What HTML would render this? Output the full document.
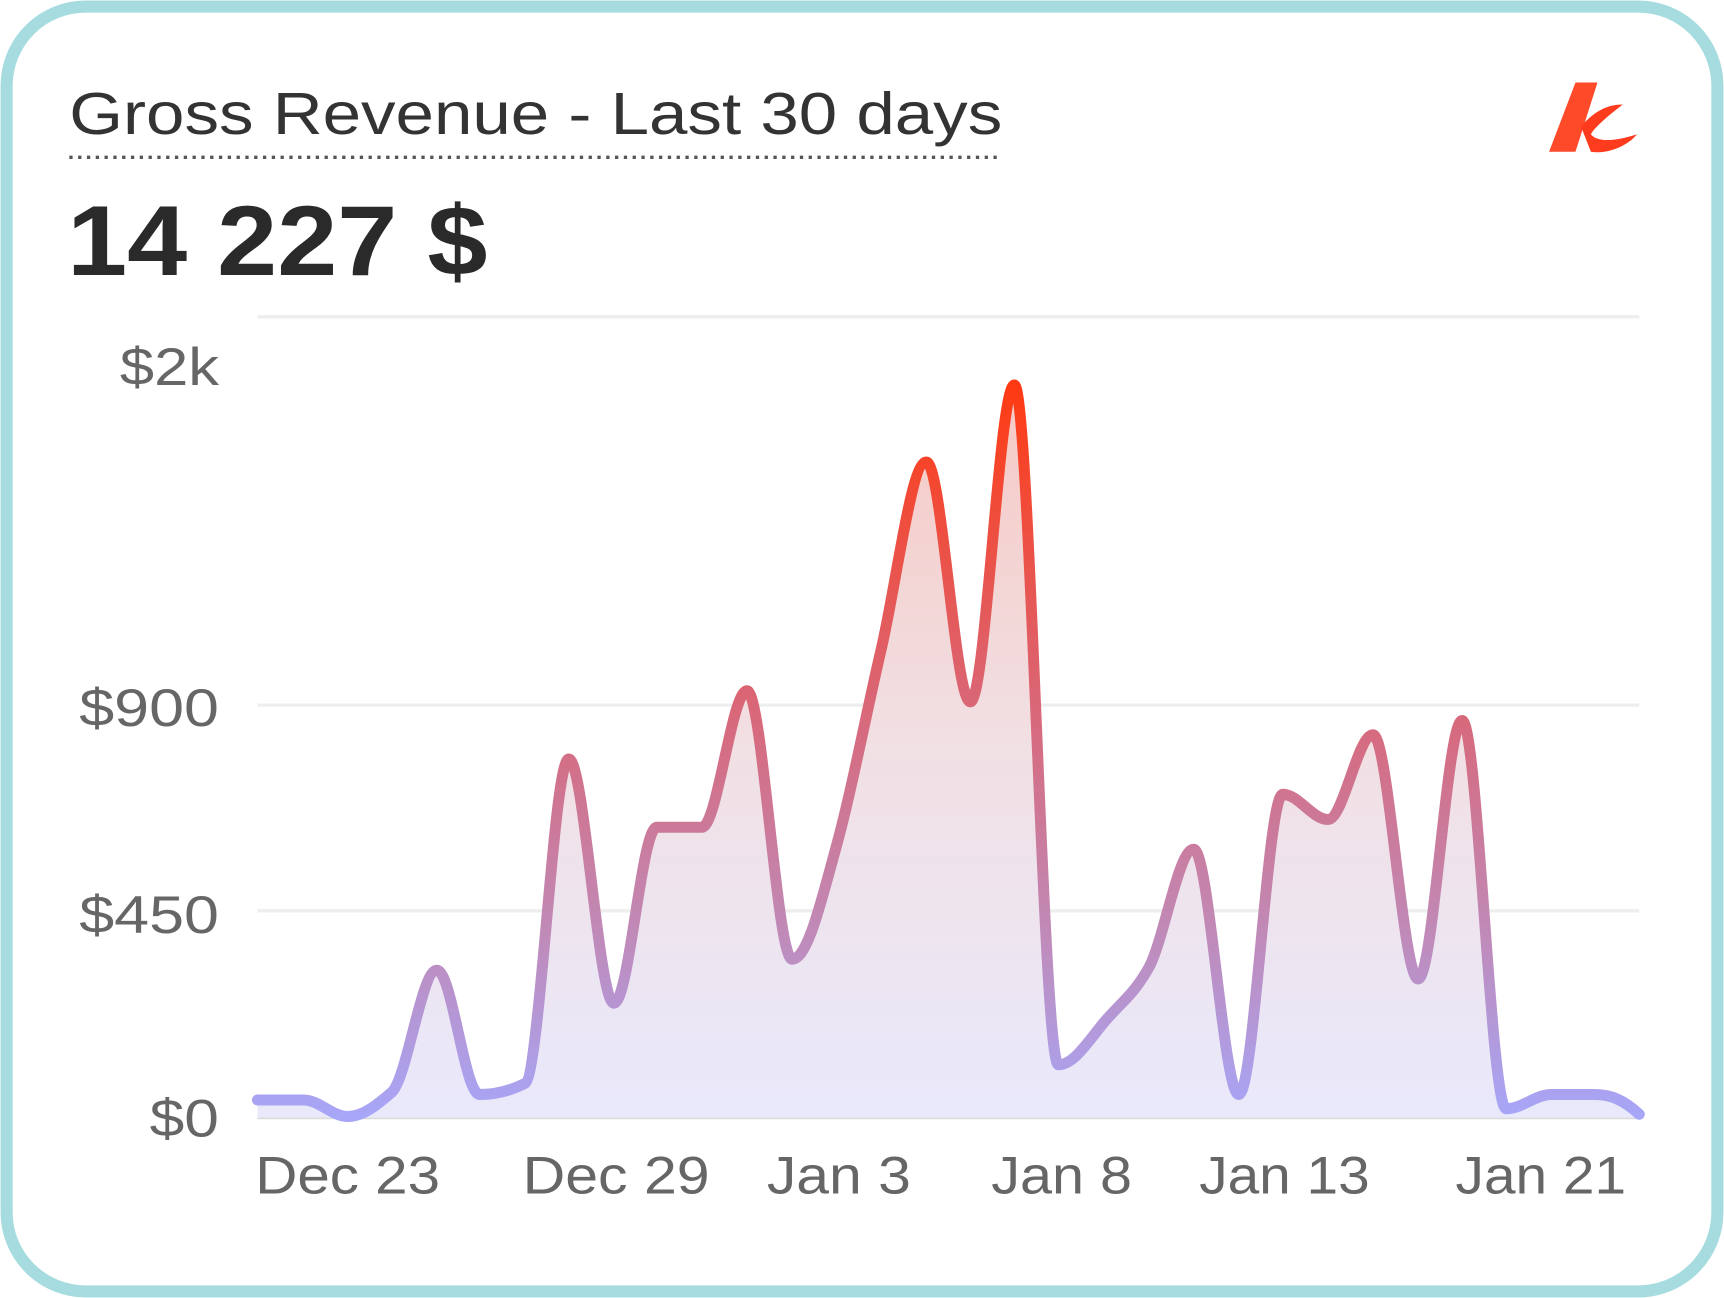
<!DOCTYPE html>
<html><head><meta charset="utf-8"><style>
html,body{margin:0;padding:0;background:#fff;}
svg{display:block;}
</style></head><body>
<svg width="1724" height="1298" viewBox="0 0 1567 1180" preserveAspectRatio="none" xmlns="http://www.w3.org/2000/svg">
<defs>
<linearGradient id="ls" x1="0" y1="350" x2="0" y2="1015" gradientUnits="userSpaceOnUse">
<stop offset="0" stop-color="#ff3a12"/>
<stop offset="0.45" stop-color="#d8687a"/>
<stop offset="0.75" stop-color="#c08ab8"/>
<stop offset="1" stop-color="#a7a6f8"/>
</linearGradient>
<linearGradient id="lf" x1="0" y1="350" x2="0" y2="1015" gradientUnits="userSpaceOnUse">
<stop offset="0" stop-color="#f6c9c4"/>
<stop offset="0.5" stop-color="#f1e0e4"/>
<stop offset="1" stop-color="#e9e9fb"/>
</linearGradient>
</defs>
<rect x="6" y="6" width="1555" height="1168" rx="72" fill="#fff" stroke="#a6dcdf" stroke-width="11"/>
<text x="63" y="122" font-family="Liberation Sans, sans-serif" font-size="54" fill="#333" textLength="848" lengthAdjust="spacingAndGlyphs">Gross Revenue - Last 30 days</text>
<line x1="63" y1="143" x2="911" y2="143" stroke="#555" stroke-width="3" stroke-dasharray="3,5"/>
<text x="61" y="250" font-family="Liberation Sans, sans-serif" font-size="90" font-weight="bold" fill="#2a2a2a" textLength="382" lengthAdjust="spacingAndGlyphs">14 227 $</text>
<g fill="#ff3b1e">
<path d="M1432 75 L1452 75 L1432 138 L1408 138 Z" fill="#ff4a2a"/>
<path d="M1437 115 C1450 100 1462 95 1475 95 C1462 105 1450 115 1446 122 C1452 130 1470 128 1488 122 C1478 134 1460 140 1446 138 Z"/>
</g>
<g stroke="#eeeeee" stroke-width="3">
<line x1="234" y1="288" x2="1490" y2="288"/>
<line x1="234" y1="641" x2="1490" y2="641"/>
<line x1="234" y1="828" x2="1490" y2="828"/>
</g>
<line x1="234" y1="1016" x2="1490" y2="1016" stroke="#dcdcdc" stroke-width="3"/>
<g font-family="Liberation Sans, sans-serif" font-size="48" fill="#666">
<text x="109" y="350" textLength="90" lengthAdjust="spacingAndGlyphs">$2k</text>
<text x="72" y="660" textLength="127" lengthAdjust="spacingAndGlyphs">$900</text>
<text x="72" y="848" textLength="127" lengthAdjust="spacingAndGlyphs">$450</text>
<text x="136" y="1033" textLength="63" lengthAdjust="spacingAndGlyphs">$0</text>
</g>
<g font-family="Liberation Sans, sans-serif" font-size="48" fill="#666">
<text x="232" y="1085" textLength="168" lengthAdjust="spacingAndGlyphs">Dec 23</text>
<text x="475" y="1085" textLength="170" lengthAdjust="spacingAndGlyphs">Dec 29</text>
<text x="697" y="1085" textLength="131" lengthAdjust="spacingAndGlyphs">Jan 3</text>
<text x="901" y="1085" textLength="128" lengthAdjust="spacingAndGlyphs">Jan 8</text>
<text x="1090" y="1085" textLength="155" lengthAdjust="spacingAndGlyphs">Jan 13</text>
<text x="1323" y="1085" textLength="155" lengthAdjust="spacingAndGlyphs">Jan 21</text>
</g>
<path fill="url(#lf)" d="M234 1000 C248 1000 262 1000 276 1000 C290 1000 302 1015 316 1015 C330 1015 342 1005 356 993 C370 981 383 882 397 882 C411 882 422 995 436 995 C450 995 463 992 477 985 C491 978 503 690 517 690 C531 690 544 912 558 912 C572 912 583 752 597 752 C611 752 624 752 638 752 C652 752 665 628 679 628 C693 628 706 872 720 872 C734 872 746 821 760 770 C774 719 787 650 801 590 C815 530 828 420 842 420 C856 420 868 638 882 638 C896 638 908 350 922 350 C936 350 948 968 962 968 C976 968 989 947 1003 930 C1017 913 1030 905 1044 880 C1058 855 1071 772 1085 772 C1099 772 1112 995 1126 995 C1140 995 1152 722 1166 722 C1180 722 1193 745 1207 745 C1221 745 1234 668 1248 668 C1262 668 1275 890 1289 890 C1303 890 1315 655 1329 655 C1343 655 1355 1008 1369 1008 C1383 1008 1396 995 1410 995 C1424 995 1436 995 1450 995 C1464 995 1476 1000 1490 1013 L1490 1016 L234 1016 Z"/>
<path fill="none" stroke="url(#ls)" stroke-width="10" stroke-linecap="round" stroke-linejoin="round" d="M234 1000 C248 1000 262 1000 276 1000 C290 1000 302 1015 316 1015 C330 1015 342 1005 356 993 C370 981 383 882 397 882 C411 882 422 995 436 995 C450 995 463 992 477 985 C491 978 503 690 517 690 C531 690 544 912 558 912 C572 912 583 752 597 752 C611 752 624 752 638 752 C652 752 665 628 679 628 C693 628 706 872 720 872 C734 872 746 821 760 770 C774 719 787 650 801 590 C815 530 828 420 842 420 C856 420 868 638 882 638 C896 638 908 350 922 350 C936 350 948 968 962 968 C976 968 989 947 1003 930 C1017 913 1030 905 1044 880 C1058 855 1071 772 1085 772 C1099 772 1112 995 1126 995 C1140 995 1152 722 1166 722 C1180 722 1193 745 1207 745 C1221 745 1234 668 1248 668 C1262 668 1275 890 1289 890 C1303 890 1315 655 1329 655 C1343 655 1355 1008 1369 1008 C1383 1008 1396 995 1410 995 C1424 995 1436 995 1450 995 C1464 995 1476 1000 1490 1013"/>
</svg>
</body></html>
